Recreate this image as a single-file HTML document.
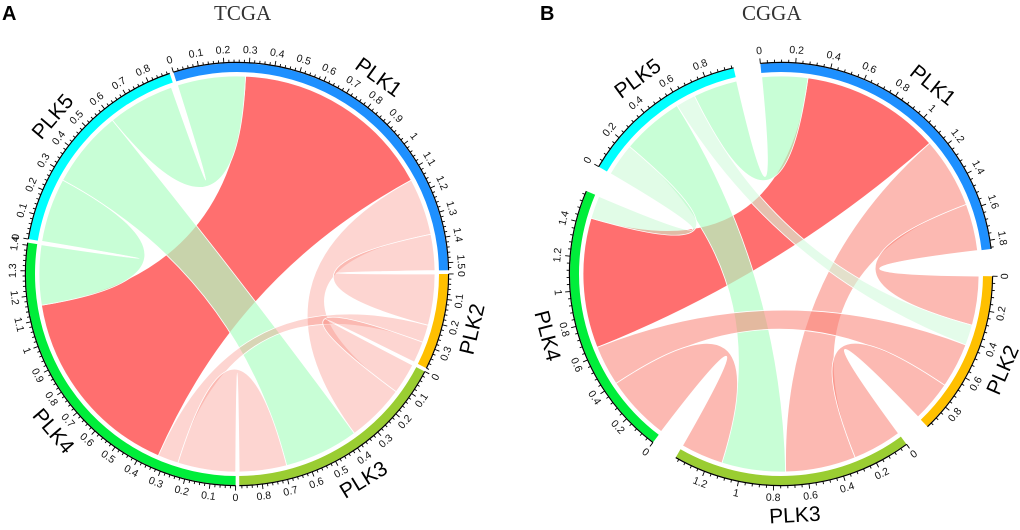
<!DOCTYPE html>
<html><head><meta charset="utf-8">
<style>
html,body{margin:0;padding:0;background:#fff;}
svg{display:block;}
.tk{font-family:"Liberation Sans",sans-serif;font-size:10.5px;fill:#111;}
.sn{font-family:"Liberation Sans",sans-serif;font-size:21px;fill:#000;}
.ttl{font-family:"Liberation Serif",serif;font-size:21px;fill:#333;}
.pl{font-family:"Liberation Sans",sans-serif;font-size:20px;font-weight:bold;fill:#000;}
</style></head>
<body>
<svg id="svg" width="1020" height="530" viewBox="0 0 1020 530" xmlns="http://www.w3.org/2000/svg">
<text class="pl" x="2" y="20">A</text>
<text class="ttl" x="214" y="20">TCGA</text>
<text class="pl" x="540" y="20">B</text>
<text class="ttl" x="742" y="20">CGGA</text>
<g id="gA"></g>
<g id="gB"></g>
</svg>
<script>
// ---- data: sectors ----
const sectorNames = ["PLK1","PLK2","PLK3","PLK4","PLK5"];
const sectorColors = ["#1e90ff","#ffc000","#9acd32","#00ee3a","#00ffff"];
// TCGA
const tcgaSizes = [1.53, 0.38, 0.89, 1.41, 0.89];
const tcgaFromSector = [0, 4, 4, 4, 0, 0, 1, 1, 2];
const tcgaFromStart  = [0.287, 0.27, 0.596, 0.0, 1.138, 1.378, 0.216, 0.29, 0.69];
const tcgaFromEnd    = [1.138, 0.596, 0.878, 0.27, 1.378, 1.53, 0.29, 0.38, 0.89];
const tcgaToSector   = [3, 2, 0, 3, 2, 1, 3, 2, 3];
const tcgaToStart    = [0.331, 0.376, 0.0, 1.157, 0.13, 0.0, 0.244, 0.0, 0.0];
const tcgaToEnd      = [1.157, 0.69, 0.287, 1.41, 0.376, 0.216, 0.331, 0.13, 0.244];
const tcgaKind       = ["red","green","green","green","pink","pink","pink","pink","pink"];
// CGGA
const cggaSizes = [1.85, 0.95, 1.38, 1.58, 0.97];
const cggaFromSector = [0, 4, 4, 4, 0, 0, 1, 1, 3, 4];
const cggaFromStart  = [0.28, 0.70, 0.20, 0.0, 1.13, 1.563, 0.425, 0.70, 0.0, 0.58];
const cggaFromEnd    = [1.13, 0.97, 0.58, 0.20, 1.563, 1.85, 0.70, 0.95, 0.40, 0.70];
const cggaToSector   = [3, 0, 2, 3, 2, 1, 3, 2, 2, 1];
const cggaToStart    = [0.646, 0.0, 0.73, 1.44, 0.30, 0.0, 0.40, 0.0, 1.12, 0.30];
const cggaToEnd      = [1.44, 0.28, 1.12, 1.58, 0.73, 0.30, 0.646, 0.30, 1.38, 0.425];
const cggaKind       = ["red","green","green","lgreen","salmon","salmon","salmon","salmon","salmon","fgreen"];

const fills = {
  red:"rgba(255,111,111,1)", green:"rgba(177,253,196,0.7)", lgreen:"rgba(200,250,212,0.55)",
  fgreen:"rgba(210,250,220,0.6)", pink:"rgba(250,128,114,0.33)", salmon:"rgba(250,128,114,0.55)"
};
const NS="http://www.w3.org/2000/svg";

function drawChord(g, cfg){
  const {cx,cy,sizes,start,k,gap,labelStep,minorStep,fs,ts,fe,tsec,tst,ten,kind,rChord,rIn,rOut} = cfg;
  const starts=[]; let a=start;
  for(let i=0;i<sizes.length;i++){ starts.push(a); a+=sizes[i]*k+gap; }
  const ang=(s,v)=> (starts[s]+v*k)*Math.PI/180;
  const P=(t,r)=>[cx+r*Math.sin(t), cy-r*Math.cos(t)];
  const f=p=>p[0].toFixed(2)+" "+p[1].toFixed(2);
  const order=[...kind.keys()].sort((x,y)=>(kind[x]==="red"?0:1)-(kind[y]==="red"?0:1));
  const cg=document.createElementNS(NS,"g");
  
  
  g.appendChild(cg);
  order.forEach(i=>{
    const a0=ang(fs[i],ts[i]), a1=ang(fs[i],fe[i]), b0=ang(tsec[i],tst[i]), b1=ang(tsec[i],ten[i]);
    const la=(a1-a0)>Math.PI?1:0, lb=(b1-b0)>Math.PI?1:0;
    const d="M"+f(P(a0,rChord))+" A"+rChord+" "+rChord+" 0 "+la+" 1 "+f(P(a1,rChord))+
      " Q"+cx+" "+cy+" "+f(P(b0,rChord))+" A"+rChord+" "+rChord+" 0 "+lb+" 1 "+f(P(b1,rChord))+
      " Q"+cx+" "+cy+" "+f(P(a0,rChord))+" Z";
    const p=document.createElementNS(NS,"path");
    p.setAttribute("d",d);
    p.setAttribute("fill",fills[kind[i]]);
    p.setAttribute("stroke","#fff");
    p.setAttribute("stroke-width","0.8");
    
    
    cg.appendChild(p);
  });
  for(let s=0;s<sizes.length;s++){
    const sg=document.createElementNS(NS,"g");
    
    
    g.appendChild(sg);
    const t0=ang(s,0), t1=ang(s,sizes[s]);
    const lg=(t1-t0)>Math.PI?1:0;
    const band=document.createElementNS(NS,"path");
    band.setAttribute("d","M"+f(P(t0,rOut))+" A"+rOut+" "+rOut+" 0 "+lg+" 1 "+f(P(t1,rOut))+
      " L"+f(P(t1,rIn))+" A"+rIn+" "+rIn+" 0 "+lg+" 0 "+f(P(t0,rIn))+" Z");
    band.setAttribute("fill",sectorColors[s]);
    
    
    sg.appendChild(band);
    const axis=document.createElementNS(NS,"path");
    axis.setAttribute("d","M"+f(P(t0,rOut+0.6))+" A"+(rOut+0.6)+" "+(rOut+0.6)+" 0 "+lg+" 1 "+f(P(t1,rOut+0.6)));
    axis.setAttribute("fill","none"); axis.setAttribute("stroke","#000"); axis.setAttribute("stroke-width","1.2");
    
    
    sg.appendChild(axis);
    let dt="";
    const n=Math.floor(sizes[s]/minorStep+1e-6);
    for(let j=0;j<=n;j++){
      const v=j*minorStep, t=ang(s,v);
      const lab=Math.abs(v/labelStep-Math.round(v/labelStep))<1e-6;
      const len=lab?5:2.8;
      dt+="M"+f(P(t,rOut+0.6))+" L"+f(P(t,rOut+0.6+len))+" ";
      if(lab){
        const deg=t*180/Math.PI; let dn=((deg%360)+360)%360;
        const rot=(dn>90&&dn<270)?dn-180:dn;
        const pp=P(t,rOut+13);
        const tx=document.createElementNS(NS,"text");
        tx.setAttribute("class","tk");
        tx.setAttribute("x",pp[0].toFixed(2)); tx.setAttribute("y",pp[1].toFixed(2));
        tx.setAttribute("text-anchor","middle"); tx.setAttribute("dominant-baseline","central");
        tx.setAttribute("transform","rotate("+rot.toFixed(2)+" "+pp[0].toFixed(2)+" "+pp[1].toFixed(2)+")");
        tx.textContent=String(parseFloat(v.toFixed(2)));
        
        
        sg.appendChild(tx);
      }
    }
    const tk=document.createElementNS(NS,"path");
    tk.setAttribute("d",dt); tk.setAttribute("stroke","#000"); tk.setAttribute("stroke-width","0.9");
    
    
    sg.appendChild(tk);
    const tm=ang(s,sizes[s]/2), deg=tm*180/Math.PI, dn=((deg%360)+360)%360;
    const rot=(dn>90&&dn<270)?dn-180:dn;
    const pp=P(tm,rOut+31);
    const nm=document.createElementNS(NS,"text");
    nm.setAttribute("class","sn");
    nm.setAttribute("x",pp[0].toFixed(2)); nm.setAttribute("y",pp[1].toFixed(2));
    nm.setAttribute("text-anchor","middle"); nm.setAttribute("dominant-baseline","central");
    nm.setAttribute("transform","rotate("+rot.toFixed(2)+" "+pp[0].toFixed(2)+" "+pp[1].toFixed(2)+")");
    nm.textContent=sectorNames[s];
    
    
    sg.appendChild(nm);
  }
}
drawChord(document.getElementById("gA"),{cx:237,cy:274,sizes:tcgaSizes,start:-17.5,k:69.6,gap:1,labelStep:0.1,minorStep:0.02,
  fs:tcgaFromSector,ts:tcgaFromStart,fe:tcgaFromEnd,tsec:tcgaToSector,tst:tcgaToStart,ten:tcgaToEnd,kind:tcgaKind,rChord:198,rIn:202,rOut:211});
drawChord(document.getElementById("gB"),{cx:781,cy:274,sizes:cggaSizes,start:-5.6,k:48,gap:7.4,labelStep:0.2,minorStep:0.04,
  fs:cggaFromSector,ts:cggaFromStart,fe:cggaFromEnd,tsec:cggaToSector,tst:cggaToStart,ten:cggaToEnd,kind:cggaKind,rChord:198,rIn:202,rOut:211});
</script>
</body></html>
